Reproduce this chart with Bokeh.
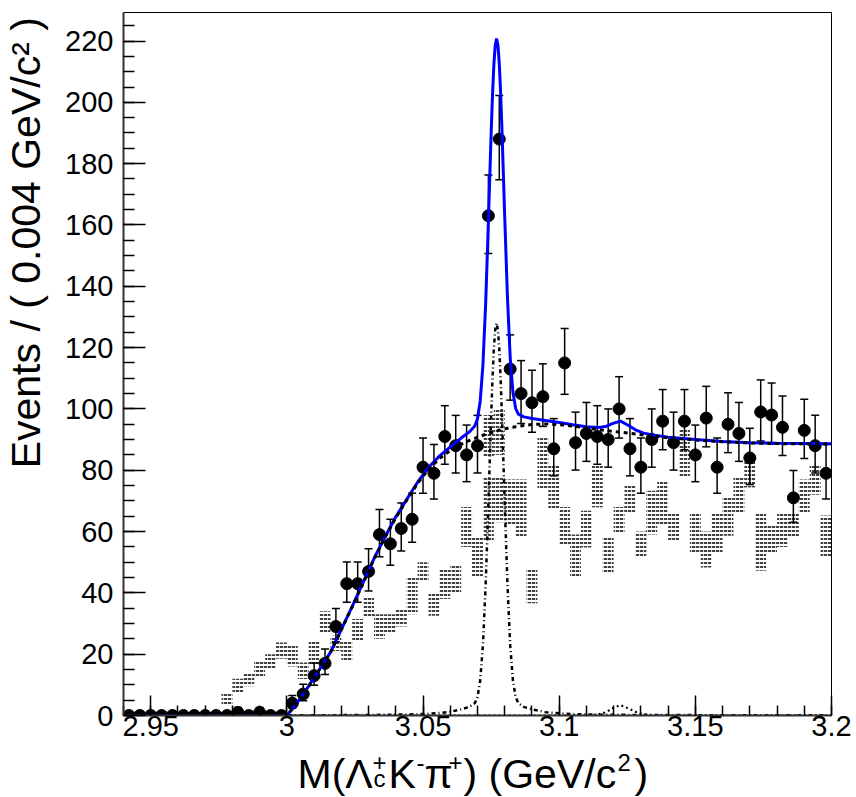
import numpy as np
from bokeh.plotting import figure
from bokeh.layouts import row, column
from bokeh.models import Range1d, FixedTicker, PrintfTickFormatter
from bokeh.core.properties import value
from bokeh.embed import file_html
from bokeh.resources import INLINE

# ---------------- data ----------------
bin_start = 2.94
bin_width = 0.004
counts = [0, 0, 0, 0, 0, 0, 0, 0, 0, 0,
          1, 0, 1, 0, 0,
          4, 7, 13, 17, 29, 43, 43, 47, 59, 56, 61, 64, 81, 79, 91, 88, 85, 88,
          163, 188, 113, 105, 102, 104, 87, 115, 89, 92, 91, 90, 100, 87, 81, 90, 96, 89,
          96, 85, 97, 81, 95, 92, 84, 99, 98, 94, 71, 93, 88, 79]

# shaded (hatched) histogram boxes: bin index, lower edge, upper edge
band_bin = [9, 10, 11, 12, 13, 14, 15, 16, 17, 18, 19, 20, 21, 22, 23, 24, 25, 26, 27, 28,
            29, 30, 31, 32, 33, 33, 34, 34, 35, 36, 37, 38, 39, 40, 41, 42, 43, 44, 45, 46,
            47, 48, 49, 50, 51, 52, 53, 54, 55, 56, 57, 58, 59, 60, 61, 62, 63, 64]
band_lo = [3.5, 7.5, 9.5, 12.3, 15, 18.5, 16, 11.9, 16.8, 26.6, 21, 18, 24.5, 32, 25, 27, 29, 33, 44, 32.5,
           38, 40, 55, 45, 57, 84, 63, 85, 62, 58, 36.6, 74, 67.5, 55.4, 45, 54.8, 67.9, 46.5, 59.5, 65.7,
           51.6, 59, 62, 57, 78, 53, 48.3, 52.8, 58.6, 65.7, 74.4, 47.2, 52.7, 55, 58, 66, 72, 51.6]
band_hi = [7.5, 12, 14, 17.5, 20, 23.8, 23, 17.3, 24.6, 34, 26, 24, 31.5, 38.5, 33, 33, 35, 45, 50, 39.6,
           48, 49, 68, 58, 78, 98, 78, 100, 77, 77, 47.8, 90.5, 82, 68, 59, 66.8, 81.5, 58.3, 68, 75,
           60, 73.3, 76.6, 66, 93.5, 66, 60, 66.2, 71, 77.7, 83.6, 66.2, 62, 66, 66, 77, 81.5, 65.2]

# fit curves sampled along x
curve_x = [2.94, 3.000, 3.004, 3.008, 3.012, 3.016, 3.020, 3.024, 3.028, 3.032, 3.036, 3.040, 3.044,
           3.048, 3.052, 3.056, 3.060, 3.064, 3.067, 3.069, 3.070, 3.071, 3.072, 3.073, 3.074, 3.075,
           3.0755, 3.076, 3.0765, 3.077, 3.0775, 3.078, 3.0785, 3.079, 3.080, 3.081, 3.082, 3.083,
           3.084, 3.085, 3.087, 3.090, 3.095, 3.100, 3.105, 3.110, 3.114, 3.117, 3.1195, 3.1225,
           3.1255, 3.128, 3.131, 3.135, 3.140, 3.150, 3.160, 3.170, 3.180, 3.190, 3.200]
bkg_y = [0, 0, 4.3, 9.5, 15, 20.5, 28, 35.5, 43.2, 51, 58, 64.5, 70.2,
         75.7, 80.3, 83.8, 86.4, 88.5, 89.7, 90.4, 90.8, 91.1, 91.4, 91.7, 92.0, 92.3,
         92.4, 92.6, 92.7, 92.8, 92.9, 93.1, 93.2, 93.3, 93.5, 93.7, 93.9, 94.0,
         94.2, 94.3, 94.6, 94.9, 95.1, 94.9, 94.4, 93.8, 93.3, 93.0, 92.7, 92.4,
         92.1, 91.8, 91.5, 91.1, 90.6, 89.9, 89.3, 88.9, 88.7, 88.6, 88.5]
sig1_y = [0, 0.08, 0.08, 0.09, 0.1, 0.11, 0.12, 0.14, 0.16, 0.19, 0.23, 0.28, 0.33,
          0.42, 0.55, 0.8, 1.2, 2.0, 2.8, 4, 6, 11.5, 23, 42.7, 69, 97.3,
          109.7, 119.5, 125.8, 128, 125.8, 119.5, 109.7, 97.3, 69, 42.7, 23, 11.5,
          6, 4, 2.8, 2.0, 1.1, 0.7, 0.45, 0.33, 0.28, 0.25, 0.23, 0.22,
          0.2, 0.19, 0.18, 0.16, 0.15, 0.12, 0.1, 0.09, 0.08, 0.07, 0.06]
sig2_y = [0, 0, 0, 0, 0, 0, 0, 0, 0, 0, 0, 0, 0,
          0, 0, 0, 0, 0, 0, 0, 0, 0, 0, 0, 0, 0,
          0, 0, 0, 0, 0, 0, 0, 0, 0, 0, 0, 0,
          0, 0, 0, 0, 0, 0, 0, 0.05, 0.3, 1.0, 2.3, 3.4,
          2.3, 1.2, 0.4, 0.1, 0.02, 0, 0, 0, 0, 0, 0]
total_y = [0, 0, 4.4, 9.6, 15.1, 20.6, 28.1, 35.6, 43.4, 51.2, 58.2, 64.8, 70.5,
           76.1, 80.9, 84.6, 87.6, 90.5, 92.5, 94.4, 96.8, 102.6, 114.4, 134.4, 161.0, 189.6,
           202.1, 212.1, 218.5, 220.8, 218.7, 212.6, 202.9, 190.6, 162.5, 136.4, 116.9, 105.5,
           100.2, 98.3, 97.4, 96.9, 96.2, 95.6, 94.85, 94.2, 93.9, 94.25, 95.2, 96.0,
           94.6, 93.2, 92.1, 91.4, 90.8, 90.0, 89.4, 89.0, 88.8, 88.7, 88.6]

x_ticks = [2.95, 3.0, 3.05, 3.1, 3.15, 3.2]
y_ticks = [0, 20, 40, 60, 80, 100, 120, 140, 160, 180, 200, 220]

# ---------------- derived ----------------
n = np.array(counts, dtype=float)
centers = bin_start + bin_width * (np.arange(len(counts)) + 0.5)
nz = n > 0
err_up = np.sqrt(n + 0.25) + 0.5
err_dn = np.sqrt(n + 0.25) - 0.5
lo = n - err_dn
hi = n + err_up

bb = np.array(band_bin)
band_left = bin_start + bin_width * bb
band_right = band_left + bin_width

FONT = "Liberation Sans"
YT_W = 60          # width of the y-title strip
MAIN_H = 748       # height of the main figure
XT_H = 797 - MAIN_H

# ---------------- main figure ----------------
p = figure(width=856 - YT_W, height=MAIN_H, output_backend="svg", toolbar_location=None,
           x_range=Range1d(2.94, 3.2), y_range=Range1d(0, 229.3),
           min_border_left=123 - YT_W, min_border_right=25, min_border_top=12,
           min_border_bottom=MAIN_H - 715)
p.background_fill_color = "white"
p.border_fill_color = "white"
p.outline_line_color = "black"
p.outline_line_width = 1
p.xgrid.visible = False
p.ygrid.visible = False

# hatched histogram
p.quad(left=band_left, right=band_right, bottom=band_lo, top=band_hi,
       fill_alpha=0, line_alpha=0, hatch_pattern="horizontal_dash",
       hatch_color="black", hatch_alpha=1.0, hatch_scale=4, hatch_weight=1.5)

# data with error bars
p.segment(x0=centers[nz], y0=lo[nz], x1=centers[nz], y1=hi[nz], line_color="black", line_width=1.5)
p.scatter(np.concatenate([centers[nz], centers[nz]]), np.concatenate([lo[nz], hi[nz]]),
          marker="dash", size=8, line_color="black", line_width=1.5)
p.scatter(centers, n, marker="circle", size=12, fill_color="black", line_color="black")

# curves
p.line(curve_x, total_y, line_color="#0000ff", line_width=3)
p.line(curve_x, bkg_y, line_color="black", line_width=3, line_dash="4 4")
p.line(curve_x, sig1_y, line_color="black", line_width=2.5, line_dash="4 3 1 3")
p.line(curve_x, sig2_y, line_color="black", line_width=2, line_dash="2 3")

# axes
for ax in (p.xaxis[0], p.yaxis[0]):
    ax.axis_line_color = "#333333"
    ax.axis_line_width = 2
    ax.major_tick_line_color = "black"
    ax.minor_tick_line_color = "black"
    ax.major_tick_line_width = 1.5
    ax.minor_tick_line_width = 1.5
    ax.major_tick_out = 0
    ax.minor_tick_out = 0
    ax.major_label_text_font = FONT
    ax.major_label_text_font_size = "29px"
    ax.major_label_text_color = "black"

p.xaxis.ticker = FixedTicker(ticks=x_ticks, minor_ticks=[round(2.94 + 0.01 * i, 2) for i in range(27)])
p.xaxis.formatter = PrintfTickFormatter(format="%g")
p.xaxis.major_tick_in = 20
p.xaxis.minor_tick_in = 10
p.xaxis.major_label_standoff = 0

p.yaxis.ticker = FixedTicker(ticks=y_ticks, minor_ticks=list(range(0, 230, 5)))
p.yaxis.major_tick_in = 22
p.yaxis.minor_tick_in = 11
p.yaxis.major_label_standoff = 10


def text_strip(w, h):
    f = figure(width=w, height=h, output_backend="svg", toolbar_location=None,
               x_range=Range1d(0, w), y_range=Range1d(0, h), min_border=0,
               x_axis_location=None, y_axis_location=None)
    f.grid.visible = False
    f.outline_line_color = None
    f.background_fill_color = "white"
    f.border_fill_color = "white"
    return f


BIG, SMALL = "41px", "24px"

# ---------------- y-axis title strip ----------------
yt = text_strip(YT_W, MAIN_H)
yt.text(x=[25], y=[MAIN_H - 245], text=["Events / ( 0.004 GeV/c\u00b2 )"], angle=np.pi / 2,
        text_font=value(FONT), text_font_size=value(BIG), text_color="black",
        text_align="center", text_baseline="alphabetic")

# ---------------- x-axis title strip ----------------
xt = text_strip(856, XT_H)
base = XT_H - (786 - MAIN_H) + 13   # baseline of the main text in strip coordinates
big_parts = ["M(\u039b", "K", "\u03c0", ") (GeV/c", ")"]
big_x = [297, 388, 424, 463, 634]
sup_parts = ["+", "-", "+", "2"]
sup_x = [372, 416, 448, 617]
sub_parts = ["c"]
sub_x = [373]
xt.text(x=big_x, y=[base] * len(big_x), text=big_parts, text_font=value(FONT),
        text_font_size=value(BIG), text_color="black", text_baseline="alphabetic", text_align="left")
xt.text(x=sup_x, y=[base + 11] * len(sup_x), text=sup_parts, text_font=value(FONT),
        text_font_size=value(SMALL), text_color="black", text_baseline="alphabetic", text_align="left")
xt.text(x=sub_x, y=[base - 5] * len(sub_x), text=sub_parts, text_font=value(FONT),
        text_font_size=value(SMALL), text_color="black", text_baseline="alphabetic", text_align="left")

layout = column(row(yt, p, spacing=0), xt, spacing=0)
open("out.html", "w").write(file_html(layout, INLINE))
